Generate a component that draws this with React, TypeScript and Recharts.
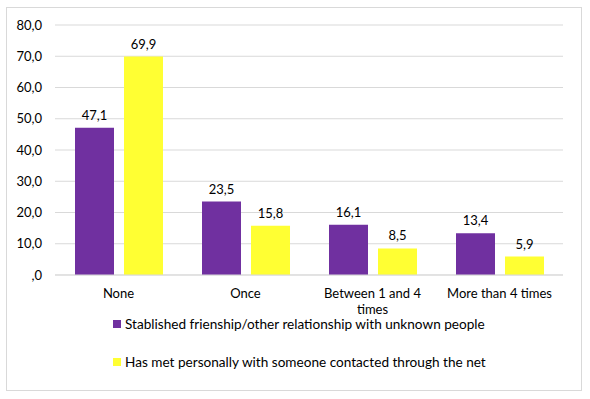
import React from "react";
import { BarChart, Bar, XAxis, YAxis, CartesianGrid, Legend, LabelList, Text } from "recharts";

const categories = ["None", "Once", "Between 1 and 4 times", "More than 4 times"];
const friendship = [47.1, 23.5, 16.1, 13.4];
const metPersonally = [69.9, 15.8, 8.5, 5.9];
const yTicks = [0, 10, 20, 30, 40, 50, 60, 70, 80];
const seriesNames = [
  "Stablished frienship/other relationship with unknown people",
  "Has met personally with someone contacted through the net",
];
const colors = ["#7030A0", "#FFFF33"];

const data = categories.map((c, i) => ({ name: c, a: friendship[i], b: metPersonally[i] }));

const FONT = "Lato, 'Liberation Sans', sans-serif";

const fmt = (v: number) => (v === 0 ? ",0" : v.toFixed(1).replace(".", ","));

const XTick = (props: any) => {
  const { x, y, payload } = props;
  return (
    <Text x={x} y={y} width={118} lineHeight={16} textAnchor="middle" verticalAnchor="start" fontSize={13} fill="#000" fontFamily={FONT}>
      {payload.value}
    </Text>
  );
};

const LegendContent = () => (
  <div style={{ fontFamily: FONT, fontSize: 13.6, color: "#000" }}>
    {seriesNames.map((n, i) => (
      <div key={n} style={{ display: "flex", alignItems: "center", height: 18, marginBottom: i === 0 ? 20 : 0 }}>
        <span style={{ display: "inline-block", width: 8, height: 8, background: colors[i], marginRight: 4 }} />
        <span>{n}</span>
      </div>
    ))}
  </div>
);

export default function App() {
  return (
    <div style={{ position: "absolute", left: 0, top: 0, width: 590, height: 399 }}>
      <div
        style={{
          position: "absolute",
          left: 6,
          top: 7,
          width: 576,
          height: 384,
          border: "1px solid #d9d9d9",
          boxSizing: "border-box",
        }}
      />
      <div style={{ position: "absolute", left: 0, top: 0 }}>
        <BarChart
          width={590}
          height={399}
          data={data}
          margin={{ top: 25, right: 27, bottom: 94, left: 0 }}
          barSize={39}
          barGap={10}
        >
          <CartesianGrid vertical={false} stroke="#d9d9d9" />
          <XAxis
            dataKey="name"
            height={30}
            tickLine={false}
            axisLine={{ stroke: "#d9d9d9" }}
            tick={<XTick />}
            tickSize={0}
            tickMargin={14}
            interval={0}
          />
          <YAxis
            width={55}
            domain={[0, 80]}
            ticks={yTicks}
            tickFormatter={fmt}
            tickLine={false}
            axisLine={false}
            tickSize={0}
            tickMargin={13}
            tick={{ fontSize: 13, fill: "#000", fontFamily: FONT }}
            interval={0}
          />
          <Legend
            layout="vertical"
            align="center"
            verticalAlign="middle"
            content={<LegendContent />}
            wrapperStyle={{ left: 113, top: 315, width: 420, height: 60 }}
          />
          <Bar dataKey="a" name={seriesNames[0]} fill={colors[0]} isAnimationActive={false}>
            <LabelList dataKey="a" position="top" offset={8} formatter={(v: any) => fmt(Number(v))} style={{ fontSize: 13, fill: "#000", fontFamily: FONT }} />
          </Bar>
          <Bar dataKey="b" name={seriesNames[1]} fill={colors[1]} isAnimationActive={false}>
            <LabelList dataKey="b" position="top" offset={8} formatter={(v: any) => fmt(Number(v))} style={{ fontSize: 13, fill: "#000", fontFamily: FONT }} />
          </Bar>
        </BarChart>
      </div>
    </div>
  );
}
